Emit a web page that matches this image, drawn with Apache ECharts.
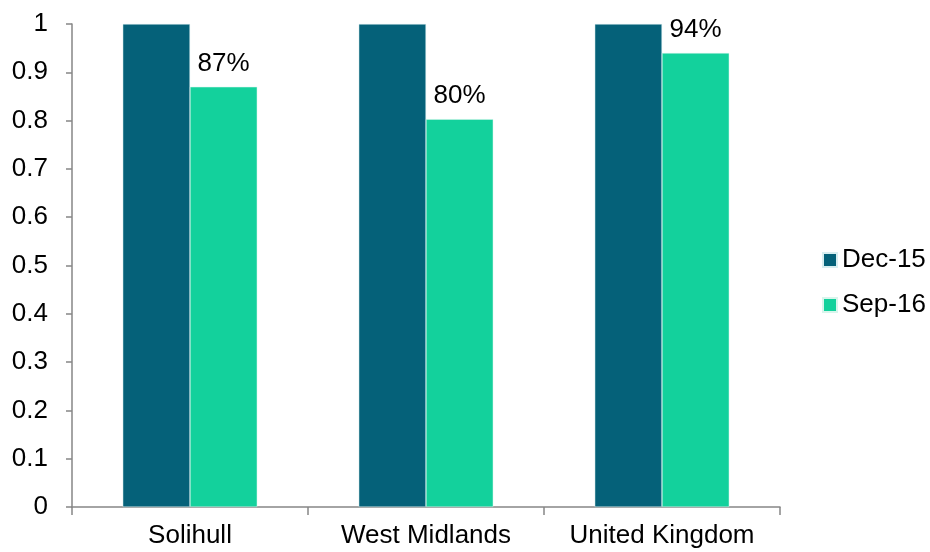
<!DOCTYPE html>
<html>
<head>
<meta charset="utf-8">
<script src="https://cdn.jsdelivr.net/npm/echarts@6/dist/echarts.min.js"></script>
<style>
  html, body { margin: 0; padding: 0; background: #fff; }
  #chart { width: 930px; height: 552px; }
</style>
</head>
<body>
<div id="chart"></div>
<script>
const categories = ['Solihull', 'West Midlands', 'United Kingdom']
const dec15 = [1, 1, 1]
const sep16 = [0.87, 0.803, 0.94]
const sep16Labels = ['87%', '80%', '94%']

const chart = echarts.init(document.getElementById('chart'))

const font = 'Liberation Sans, Arial, sans-serif'
const axisGrey = '#868686'

chart.setOption({
  animation: false,
  textStyle: { fontFamily: font },
  grid: { left: 72, right: 150, top: 24, bottom: 45, containLabel: false },
  legend: {
    orient: 'vertical',
    left: 822,
    top: 247,
    padding: 0,
    itemWidth: 14,
    itemHeight: 14,
    itemGap: 19,
    icon: 'rect',
    textStyle: { fontSize: 26, color: '#000', fontFamily: font },
    data: ['Dec-15', 'Sep-16']
  },
  xAxis: {
    type: 'category',
    data: categories,
    axisLine: { lineStyle: { color: axisGrey, width: 1.5 } },
    axisTick: { show: true, interval: 0, length: 8, lineStyle: { color: axisGrey, width: 1.5 } },
    axisLabel: { interval: 0, hideOverlap: false, color: '#000', fontSize: 26, fontFamily: font, margin: 16 }
  },
  yAxis: {
    type: 'value',
    min: 0,
    max: 1,
    interval: 0.1,
    splitLine: { show: false },
    axisLine: { show: true, lineStyle: { color: axisGrey, width: 1.5 } },
    axisTick: { show: true, inside: false, length: 6, lineStyle: { color: axisGrey, width: 1.5 } },
    axisLabel: {
      color: '#000', fontSize: 26, fontFamily: font, margin: 24,
      formatter: v => String(Math.round(v * 10) / 10)
    }
  },
  series: [
    {
      name: 'Dec-15',
      type: 'bar',
      data: dec15,
      barGap: '0%',
      barCategoryGap: '43%',
      itemStyle: { color: '#056179', borderColor: '#d8eef0', borderWidth: 0.5 }
    },
    {
      name: 'Sep-16',
      type: 'bar',
      data: sep16,
      itemStyle: { color: '#13d19c', borderColor: '#d8f5ec', borderWidth: 0.5 },
      label: {
        show: true,
        position: 'top',
        distance: 10,
        color: '#000',
        fontSize: 26,
        fontFamily: font,
        formatter: p => sep16Labels[p.dataIndex]
      }
    }
  ]
})
</script>
</body>
</html>
